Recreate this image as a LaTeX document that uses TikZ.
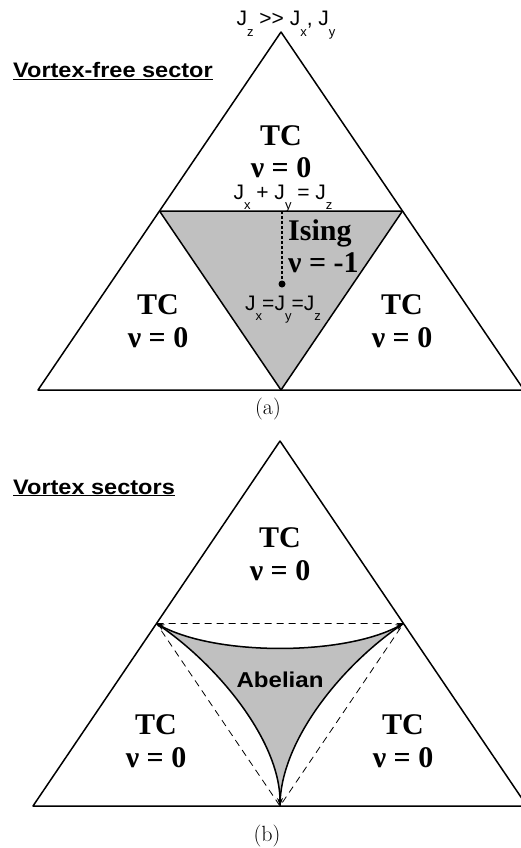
\documentclass[tikz,border=0pt]{standalone}
\usepackage{fontspec}
\setmainfont{Liberation Serif}
\newfontfamily\lsans{Liberation Sans}
\newfontfamily\lsanswide[FakeStretch=1.12]{Liberation Sans}
\newfontfamily\lmr{Latin Modern Roman}
\usetikzlibrary{arrows.meta}
\definecolor{regiongray}{RGB}{192,192,192}
\newcommand\dn[1]{\raisebox{-0.5em}{\fontsize{13}{13}\selectfont #1}}
\begin{document}
\begin{tikzpicture}[x=1pt,y=-1pt,
  edge/.style={line width=1.5pt, line join=round},
  phase/.style={font=\fontsize{30}{34}\selectfont\bfseries, align=center, inner sep=0pt},
  jlabel/.style={font=\lsans\fontsize{21}{21}\selectfont, inner sep=0pt},
  heading/.style={font=\lsanswide\bfseries\fontsize{21}{21}\selectfont, inner sep=0pt, anchor=base west},
  caption/.style={font=\lmr\fontsize{22}{22}\selectfont, inner sep=0pt},
  tip/.style={-{Stealth[length=8pt,width=6pt]}},
  bothtip/.style={{Stealth[length=8pt,width=6pt]}-{Stealth[length=8pt,width=6pt]}}]
\useasboundingbox (0,0) rectangle (521,848);
% ---------- panel (a)
\coordinate (A1) at (281,32);
\coordinate (BL1) at (38,390);
\coordinate (BR1) at (524,390);
\coordinate (L1) at (159.5,211);
\coordinate (R1) at (402.5,211);
\coordinate (B1) at (281,390);
\fill[regiongray] (L1) -- (R1) -- (B1) -- cycle;
\draw[edge] (A1) -- (BL1) -- (BR1) -- cycle;
\draw[edge] (L1) -- (R1) -- (B1) -- cycle;
\node[circle, fill, inner sep=0pt, minimum size=7pt] (dot) at (282,284) {};
\coordinate (top1) at (282,211);
\draw[line width=1.3pt, densely dashed] (top1) -- (dot);
\node[jlabel, anchor=base] (jtop) at (286,26) {J\dn{z} >> J\dn{x}, J\dn{y}};
\node[heading] (h1) at (13,78) {\underline{Vortex-free sector}};
\node[phase, anchor=base] (tc1) at (281,145) {TC};
\node[phase, anchor=base] (nu1) at (281,177) {ν = 0};
\node[jlabel, anchor=base] (jsum) at (283,199) {J\dn{x} + J\dn{y} = J\dn{z}};
\node[phase, anchor=base west] (ising) at (288,240) {Ising};
\node[phase, anchor=base west] (nuI) at (288,272) {ν = -1};
\node[jlabel, anchor=base] (jeq) at (283,310) {J\dn{x}=J\dn{y}=J\dn{z}};
\node[phase, anchor=base] (tc2) at (158,314) {TC};
\node[phase, anchor=base] (nu2) at (158,347) {ν = 0};
\node[phase, anchor=base] (tc3) at (402,314) {TC};
\node[phase, anchor=base] (nu3) at (402,347) {ν = 0};
\node[caption, anchor=base] (capa) at (268,414) {(a)};
% ---------- panel (b)
\coordinate (A2) at (280,441);
\coordinate (BL2) at (33,806);
\coordinate (BR2) at (527,806);
\coordinate (L2) at (156.5,623.5);
\coordinate (R2) at (403.5,623.5);
\coordinate (B2) at (280,806);
\fill[regiongray] (L2) .. controls (216,656) and (344,656) .. (R2)
   .. controls (344,663) and (280,740) .. (B2)
   .. controls (280,740) and (216,663) .. (L2) -- cycle;
\draw[edge] (A2) -- (BL2) -- (BR2) -- cycle;
\draw[line width=0.8pt, dash pattern=on 7pt off 5pt] (L2) -- (R2) -- (B2) -- cycle;
\draw[edge, bothtip] (L2) .. controls (216,656) and (344,656) .. (R2);
\draw[edge, tip] (L2) .. controls (216,663) and (280,740) .. (B2);
\draw[edge] (R2) .. controls (344,663) and (280,740) .. (B2);
\node[heading] (h2) at (13,494) {\underline{Vortex sectors}};
\node[phase, anchor=base] (tc4) at (280,547) {TC};
\node[phase, anchor=base] (nu4) at (280,580) {ν = 0};
\node[font=\lsanswide\bfseries\fontsize{21.5}{21.5}\selectfont, inner sep=0pt, anchor=base] (ab) at (280,687) {Abelian};
\node[phase, anchor=base] (tc5) at (156,734) {TC};
\node[phase, anchor=base] (nu5) at (156,767) {ν = 0};
\node[phase, anchor=base] (tc6) at (403,734) {TC};
\node[phase, anchor=base] (nu6) at (403,767) {ν = 0};
\node[caption, anchor=base] (capb) at (267,841) {(b)};
\end{tikzpicture}
\end{document}
